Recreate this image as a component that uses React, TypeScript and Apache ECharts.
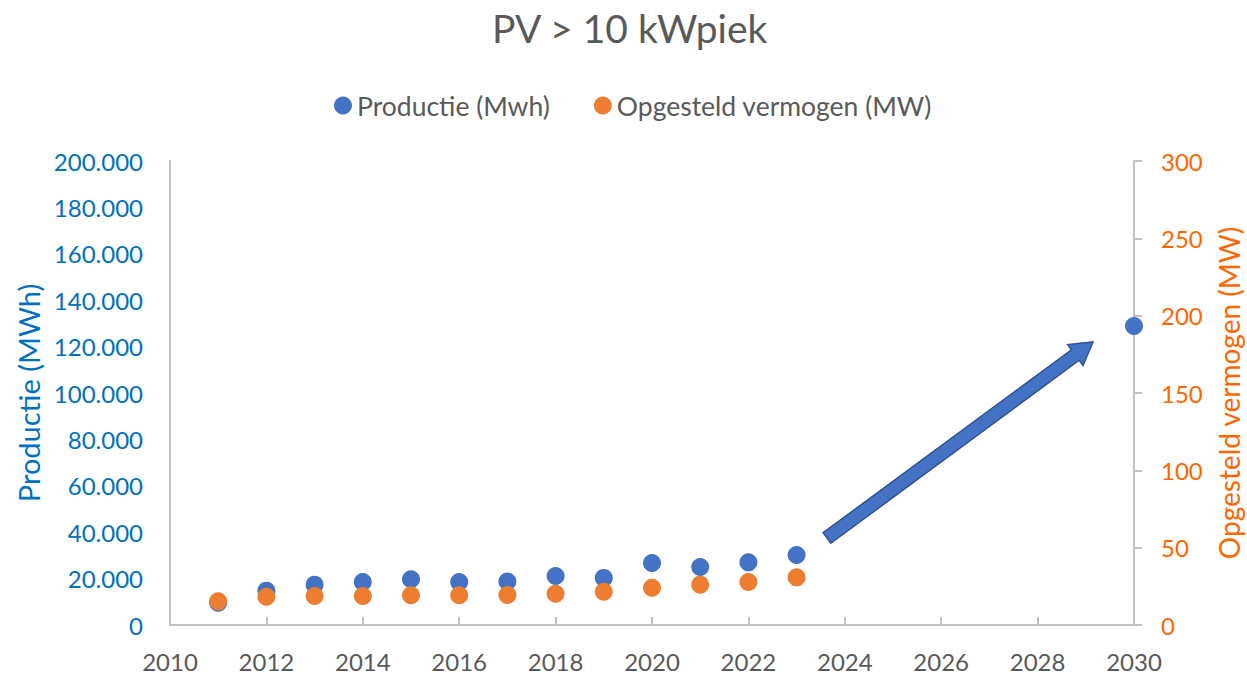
import React, { useEffect, useRef } from "react";
import * as echarts from "echarts";

const years = [2011, 2012, 2013, 2014, 2015, 2016, 2017, 2018, 2019, 2020, 2021, 2022, 2023, 2030];
const productie = [9600, 14800, 17400, 18500, 19700, 18500, 18700, 21100, 20300, 26700, 25000, 27000, 30200, 128900];
const vermogenYears = [2011, 2012, 2013, 2014, 2015, 2016, 2017, 2018, 2019, 2020, 2021, 2022, 2023];
const vermogen = [15.3, 18.3, 18.7, 18.7, 19.2, 19.2, 19.4, 20.2, 21.5, 24.1, 26.1, 27.8, 30.8];
// arrow annotation: [xStart, yStart, xEnd, yEnd] in data units (left axis)
const arrow = [[2023.63, 37500, 2029.15, 122000]];

const FONT = "Lato, 'Open Sans', sans-serif";
const GREY = "#595959";
const BLUE_TXT = "#0070C0";
const ORANGE_TXT = "#FF6600";
const BLUE = "#4472C4";
const ORANGE = "#ED7D31";

function fmtThousands(v: number) {
  return String(Math.round(v)).replace(/\B(?=(\d{3})+(?!\d))/g, ".");
}

export default function App() {
  const ref = useRef<HTMLDivElement>(null);
  useEffect(() => {
    if (!ref.current) return;
    const chart = echarts.init(ref.current, undefined, { renderer: "svg" });
    chart.setOption({
      animation: false,
      textStyle: { fontFamily: FONT },
      title: {
        text: "PV > 10 kWpiek",
        left: 487,
        top: 3,
        textStyle: { fontFamily: FONT, fontSize: 39, fontWeight: "normal", color: GREY },
      },
      legend: {
        data: ["Productie (Mwh)", "Opgesteld vermogen (MW)"],
        top: 87,
        left: 329,
        icon: "circle",
        itemWidth: 18,
        itemHeight: 18,
        itemGap: 44,
        textStyle: { fontFamily: FONT, fontSize: 26.5, color: GREY },
      },
      grid: { left: 170, right: 113, top: 161, bottom: 51, containLabel: false, outerBoundsMode: "none" },
      xAxis: {
        type: "value",
        min: 2010,
        max: 2030,
        interval: 2,
        axisLine: { show: true, lineStyle: { color: "#BFBFBF", width: 2 } },
        axisTick: { show: true, inside: true, length: 8, lineStyle: { color: "#BFBFBF", width: 2 } },
        splitLine: { show: false },
        axisLabel: { fontFamily: FONT, fontSize: 24, color: GREY, margin: 24, formatter: (v: number) => String(v) },
      },
      yAxis: [
        {
          type: "value",
          min: 0,
          max: 200000,
          interval: 20000,
          position: "left",
          name: "Productie (MWh)",
          nameLocation: "middle",
          nameGap: 126,
          nameTextStyle: { fontFamily: FONT, fontSize: 29, color: BLUE_TXT },
          axisLine: { show: true, lineStyle: { color: "#BFBFBF", width: 2 } },
          axisTick: { show: false },
          splitLine: { show: false },
          axisLabel: { fontFamily: FONT, fontSize: 24, color: BLUE_TXT, margin: 27, formatter: fmtThousands },
        },
        {
          type: "value",
          min: 0,
          max: 300,
          interval: 50,
          position: "right",
          name: "Opgesteld vermogen (MW)",
          nameLocation: "middle",
          nameGap: 81,
          nameRotate: 90,
          nameTextStyle: { fontFamily: FONT, fontSize: 28, color: ORANGE_TXT },
          axisLine: { show: true, lineStyle: { color: "#BFBFBF", width: 2 } },
          axisTick: { show: true, length: 8, lineStyle: { color: "#BFBFBF", width: 2 } },
          splitLine: { show: false },
          axisLabel: { fontFamily: FONT, fontSize: 24, color: ORANGE_TXT, margin: 27 },
        },
      ],
      series: [
        {
          name: "Productie (Mwh)",
          type: "scatter",
          yAxisIndex: 0,
          symbolSize: 18,
          itemStyle: { color: BLUE, opacity: 1 },
          data: years.map((y, i) => [y, productie[i]]),
          z: 2,
        },
        {
          name: "Opgesteld vermogen (MW)",
          type: "scatter",
          yAxisIndex: 1,
          symbolSize: 18,
          itemStyle: { color: ORANGE, opacity: 1 },
          data: vermogenYears.map((y, i) => [y, vermogen[i]]),
          z: 3,
        },
        {
          name: "arrow",
          type: "custom",
          yAxisIndex: 0,
          encode: { x: [0, 2], y: [1, 3] },
          data: arrow,
          z: 4,
          renderItem: (params: any, api: any) => {
            const p1 = api.coord([api.value(0), api.value(1)]);
            const p2 = api.coord([api.value(2), api.value(3)]);
            const dx = p2[0] - p1[0];
            const dy = p2[1] - p1[1];
            const len = Math.sqrt(dx * dx + dy * dy);
            const ux = dx / len, uy = dy / len;
            const nx = -uy, ny = ux;
            const shaft = 6.5, head = 13, headLen = 22;
            const bx = p2[0] - ux * headLen, by = p2[1] - uy * headLen;
            const pts = [
              [p1[0] + nx * shaft, p1[1] + ny * shaft],
              [bx + nx * shaft, by + ny * shaft],
              [bx + nx * head, by + ny * head],
              [p2[0], p2[1]],
              [bx - nx * head, by - ny * head],
              [bx - nx * shaft, by - ny * shaft],
              [p1[0] - nx * shaft, p1[1] - ny * shaft],
            ];
            return {
              type: "polygon",
              shape: { points: pts },
              style: { fill: BLUE, stroke: "#2F528F", lineWidth: 1.5 },
            };
          },
        },
      ],
    });
    return () => chart.dispose();
  }, []);
  return <div ref={ref} style={{ width: 1247, height: 676, position: "absolute", left: 0, top: 0 }} />;
}
